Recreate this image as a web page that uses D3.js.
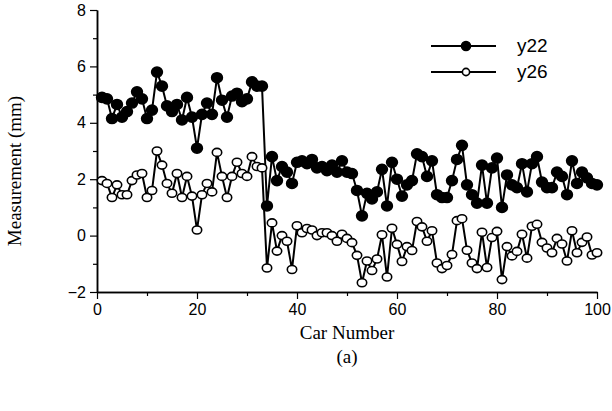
<!DOCTYPE html>
<html>
<head>
<meta charset="utf-8">
<script src="https://cdn.jsdelivr.net/npm/d3@7"></script>
<style>
  body { margin: 0; background: #fff; }
  svg { display: block; }
  .tick text { font-family: "Liberation Sans", Arial, sans-serif; font-size: 16px; }
  .axis-title { font-family: "Liberation Serif", "Times New Roman", serif; font-size: 19px; }
  .legend text { font-family: "Liberation Sans", Arial, sans-serif; font-size: 19px; }
</style>
</head>
<body>
<div id="chart"></div>
<script>
// car numbers along the x axis
const cars = d3.range(1, 101);

const y22 = [
  4.9, 4.85, 4.15, 4.65, 4.2, 4.4, 4.7, 5.1, 4.85, 4.15,
  4.45, 5.8, 5.3, 4.6, 4.4, 4.65, 4.1, 4.9, 4.2, 3.1,
  4.3, 4.7, 4.3, 5.6, 4.8, 4.2, 4.95, 5.05, 4.75, 4.85,
  5.45, 5.3, 5.3, 1.05, 2.8, 1.95, 2.45, 2.25, 1.85, 2.6,
  2.65, 2.55, 2.7, 2.4, 2.45, 2.3, 2.5, 2.25, 2.65, 2.25,
  2.2, 1.6, 0.7, 1.5, 1.3, 1.55, 2.35, 1.05, 2.6, 2.0,
  1.4, 1.8, 1.95, 2.9, 2.8, 2.1, 2.65, 1.45, 1.35, 1.35,
  1.95, 2.7, 3.2, 1.8, 1.45, 1.15, 2.5, 1.15, 2.4, 2.75,
  1.0, 2.15, 1.8, 1.7, 2.55, 1.55, 2.55, 2.8, 1.9, 1.7,
  1.7, 2.25, 2.1, 1.45, 2.65, 1.85, 2.25, 2.05, 1.85, 1.8
];

const y26 = [
  1.95, 1.85, 1.35, 1.8, 1.45, 1.45, 1.95, 2.15, 2.2, 1.35,
  1.6, 3.0, 2.5, 1.85, 1.5, 2.2, 1.35, 2.1, 1.4, 0.2,
  1.45, 1.85, 1.55, 2.95, 2.1, 1.35, 2.1, 2.6, 2.2, 2.1,
  2.8, 2.45, 2.4, -1.15, 0.45, -0.55, 0.0, -0.2, -1.2, 0.35,
  0.1, 0.25, 0.2, 0.0, 0.1, 0.1, 0.0, -0.2, 0.05, -0.1,
  -0.25, -0.7, -1.67, -0.9, -1.24, -0.83, 0.03, -1.47, 0.26, -0.31,
  -0.92, -0.39, -0.53, 0.5, 0.31, -0.2, 0.17, -0.97, -1.17, -1.06,
  -0.67, 0.53, 0.6, -0.52, -0.97, -1.17, 0.12, -1.13, -0.07, 0.15,
  -1.56, -0.39, -0.72, -0.56, 0.05, -0.8, 0.33, 0.4, -0.24, -0.44,
  -0.61, -0.1, -0.3, -0.9, 0.17, -0.61, -0.24, -0.05, -0.69, -0.61
];

const xTicks = [0, 20, 40, 60, 80, 100];
const yTicks = [-2, 0, 2, 4, 6, 8];

const W = 612, H = 411;
const margin = { top: 10, right: 15, bottom: 119, left: 97 };
const width = W - margin.left - margin.right;
const height = H - margin.top - margin.bottom;

const svg = d3.select("#chart").append("svg")
  .attr("width", W)
  .attr("height", H);

const g = svg.append("g")
  .attr("transform", "translate(" + margin.left + "," + margin.top + ")");

const x = d3.scaleLinear().domain([0, 100]).range([0, width]);
const y = d3.scaleLinear().domain([-2, 8]).range([height, 0]);

// axes: major ticks labelled, minor ticks halfway between
g.append("g")
  .attr("transform", "translate(0," + height + ")")
  .call(d3.axisBottom(x).tickValues(xTicks).tickSize(7).tickPadding(5).tickSizeOuter(0));
g.append("g")
  .attr("transform", "translate(0," + height + ")")
  .call(d3.axisBottom(x).tickValues(d3.range(10, 100, 20)).tickSize(4).tickFormat("").tickSizeOuter(0));

g.append("g")
  .call(d3.axisLeft(y).tickValues(yTicks).tickSize(7).tickPadding(4).tickSizeOuter(0));
g.append("g")
  .call(d3.axisLeft(y).tickValues(d3.range(-1, 8, 2)).tickSize(4).tickFormat("").tickSizeOuter(0));

g.selectAll(".domain").attr("stroke", "#000").attr("stroke-width", 1.5);
g.selectAll(".tick line").attr("stroke", "#000").attr("stroke-width", 1.2);

// axis titles
g.append("text")
  .attr("class", "axis-title")
  .attr("x", width / 2)
  .attr("y", height + 47)
  .attr("text-anchor", "middle")
  .text("Car Number");

g.append("text")
  .attr("class", "axis-title")
  .attr("x", width / 2)
  .attr("y", height + 71)
  .attr("text-anchor", "middle")
  .text("(a)");

g.append("text")
  .attr("class", "axis-title")
  .attr("transform", "translate(-76," + (height / 2 + 20) + ") rotate(-90)")
  .attr("text-anchor", "middle")
  .text("Measurement (mm)");

const series = [
  { name: "y22", values: y22, fill: "#000" },
  { name: "y26", values: y26, fill: "#fff" }
];

const line = d3.line()
  .x((d, i) => x(cars[i]))
  .y(d => y(d));

series.forEach(s => {
  g.append("path")
    .datum(s.values)
    .attr("fill", "none")
    .attr("stroke", "#000")
    .attr("stroke-width", 2)
    .attr("d", line);

  g.selectAll(".dot-" + s.name)
    .data(s.values)
    .enter().append("ellipse")
    .attr("class", "dot-" + s.name)
    .attr("cx", (d, i) => x(cars[i]))
    .attr("cy", d => y(d))
    .attr("rx", s.fill === "#000" ? 5.4 : 4.7)
    .attr("ry", s.fill === "#000" ? 5 : 4)
    .attr("fill", s.fill)
    .attr("stroke", "#000")
    .attr("stroke-width", 1.6);
});

// legend
const legend = svg.append("g").attr("class", "legend");
series.forEach((s, i) => {
  const ly = 46 + i * 26;
  legend.append("line")
    .attr("x1", 431).attr("x2", 496)
    .attr("y1", ly).attr("y2", ly)
    .attr("stroke", "#000").attr("stroke-width", 2);
  legend.append("circle")
    .attr("cx", 466).attr("cy", ly)
    .attr("r", s.fill === "#000" ? 4.5 : 3.6)
    .attr("fill", s.fill)
    .attr("stroke", "#000")
    .attr("stroke-width", 1.6);
  legend.append("text")
    .attr("x", 517).attr("y", ly + 6)
    .text(s.name);
});
</script>
</body>
</html>
